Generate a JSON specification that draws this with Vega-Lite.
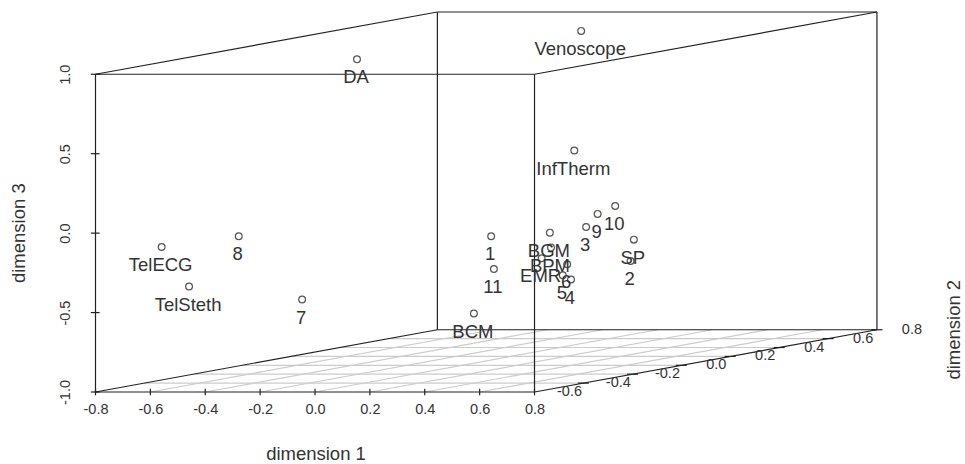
{
"$schema":"https://vega.github.io/schema/vega-lite/v6.json",
"width":782,"height":380,
"autosize":{"type":"none"},
"padding":{"left":95.5,"top":12,"right":87.5,"bottom":72},
"background":"white",
"view":{"stroke":null},
"config":{"font":"Liberation Sans"},
"datasets":{
"grid":[
{"x":-0.6,"y":-1,"x2":0.648,"y2":-0.608},{"x":-0.4,"y":-1,"x2":0.848,"y2":-0.608},{"x":-0.2,"y":-1,"x2":1.048,"y2":-0.608},{"x":0,"y":-1,"x2":1.248,"y2":-0.608},{"x":0.2,"y":-1,"x2":1.448,"y2":-0.608},{"x":0.4,"y":-1,"x2":1.648,"y2":-0.608},{"x":0.6,"y":-1,"x2":1.848,"y2":-0.608},
{"x":-0.622,"y":-0.944,"x2":0.978,"y2":-0.944},{"x":-0.443,"y":-0.888,"x2":1.157,"y2":-0.888},{"x":-0.265,"y":-0.832,"x2":1.335,"y2":-0.832},{"x":-0.087,"y":-0.776,"x2":1.513,"y2":-0.776},{"x":0.092,"y":-0.72,"x2":1.692,"y2":-0.72},{"x":0.27,"y":-0.664,"x2":1.87,"y2":-0.664}
],
"frame":[
{"x":-0.8,"y":-1,"x2":0.8,"y2":-1},{"x":-0.8,"y":-1,"x2":-0.8,"y2":1},{"x":-0.8,"y":1,"x2":0.8,"y2":1},{"x":0.8,"y":-1,"x2":0.8,"y2":1},
{"x":-0.8,"y":-1,"x2":0.446,"y2":-0.608},{"x":0.8,"y":-1,"x2":2.048,"y2":-0.608},{"x":-0.8,"y":1,"x2":0.446,"y2":1.392},{"x":0.8,"y":1,"x2":2.048,"y2":1.392},
{"x":0.446,"y":-0.608,"x2":2.048,"y2":-0.608},{"x":0.446,"y":1.392,"x2":2.048,"y2":1.392},{"x":0.446,"y":-0.608,"x2":0.446,"y2":1.392},{"x":2.048,"y":-0.608,"x2":2.048,"y2":1.392},
{"x":-0.8,"y":-1.021,"x2":-0.8,"y2":-0.979},{"x":-0.6,"y":-1.021,"x2":-0.6,"y2":-0.979},{"x":-0.4,"y":-1.021,"x2":-0.4,"y2":-0.979},{"x":-0.2,"y":-1.021,"x2":-0.2,"y2":-0.979},{"x":0,"y":-1.021,"x2":0,"y2":-0.979},{"x":0.2,"y":-1.021,"x2":0.2,"y2":-0.979},{"x":0.4,"y":-1.021,"x2":0.4,"y2":-0.979},{"x":0.6,"y":-1.021,"x2":0.6,"y2":-0.979},{"x":0.8,"y":-1.021,"x2":0.8,"y2":-0.979},
{"x":-0.817,"y":-1,"x2":-0.785,"y2":-1},{"x":-0.817,"y":-0.5,"x2":-0.785,"y2":-0.5},{"x":-0.817,"y":0,"x2":-0.785,"y2":0},{"x":-0.817,"y":0.5,"x2":-0.785,"y2":0.5},{"x":-0.817,"y":1,"x2":-0.785,"y2":1},
{"x":0.958,"y":-0.944,"x2":0.998,"y2":-0.944},{"x":1.137,"y":-0.888,"x2":1.177,"y2":-0.888},{"x":1.315,"y":-0.832,"x2":1.355,"y2":-0.832},{"x":1.493,"y":-0.776,"x2":1.533,"y2":-0.776},{"x":1.672,"y":-0.72,"x2":1.712,"y2":-0.72},{"x":1.85,"y":-0.664,"x2":1.89,"y2":-0.664},{"x":2.028,"y":-0.608,"x2":2.068,"y2":-0.608}
],
"points":[
{"x":0.153,"y":1.094,"label":"DA"},{"x":-0.278,"y":-0.02,"label":"8"},{"x":-0.559,"y":-0.087,"label":"TelECG"},{"x":-0.459,"y":-0.336,"label":"TelSteth"},{"x":-0.047,"y":-0.418,"label":"7"},{"x":0.579,"y":-0.506,"label":"BCM"},{"x":0.945,"y":0.52,"label":"InfTherm"},{"x":1.094,"y":0.171,"label":"10"},{"x":1.03,"y":0.121,"label":"9"},{"x":0.988,"y":0.039,"label":"3"},{"x":1.162,"y":-0.041,"label":"SP"},{"x":1.15,"y":-0.175,"label":"2"},{"x":0.642,"y":-0.02,"label":"1"},{"x":0.652,"y":-0.226,"label":"11"},{"x":0.856,"y":0.003,"label":"BGM"},{"x":0.86,"y":-0.091,"label":"BPM"},{"x":0.826,"y":-0.158,"label":"EMR"},{"x":0.919,"y":-0.196,"label":"6"},{"x":0.903,"y":-0.265,"label":"5"},{"x":0.933,"y":-0.292,"label":"4"},{"x":0.97,"y":1.273,"label":"Venoscope"}
],
"dim2":[
{"x":0.8,"y":-1,"label":"-0.6"},{"x":0.978,"y":-0.944,"label":"-0.4"},{"x":1.157,"y":-0.888,"label":"-0.2"},{"x":1.335,"y":-0.832,"label":"0.0"},{"x":1.513,"y":-0.776,"label":"0.2"},{"x":1.692,"y":-0.72,"label":"0.4"},{"x":1.87,"y":-0.664,"label":"0.6"},{"x":2.048,"y":-0.608,"label":"0.8"}
],
"dim2title":[{"x":2.33,"y":-0.608,"label":"dimension 2"}]
},
"encoding":{
"x":{"field":"x","type":"quantitative","scale":{"domain":[-0.8,2.05],"nice":false,"zero":false},
 "axis":{"values":[-0.8,-0.6,-0.4,-0.2,0,0.2,0.4,0.6,0.8],"labelExpr":"replace(format(datum.value,'.1f'),'−','-')","grid":false,"domain":false,"ticks":false,"labelFontSize":14.5,"labelColor":"#333","labelPadding":10,"title":"dimension 1","titleFontSize":18.5,"titleFontWeight":"normal","titleColor":"#333","titleX":220,"titleY":61,"titleBaseline":"middle","titleAlign":"center","labelFlush":false,"labelOverlap":false}},
"y":{"field":"y","type":"quantitative","scale":{"domain":[-1,1.392],"nice":false,"zero":false},
 "axis":{"values":[-1,-0.5,0,0.5,1],"labelExpr":"replace(format(datum.value,'.1f'),'−','-')","grid":false,"domain":false,"ticks":false,"labelFontSize":14.5,"labelColor":"#333","labelAngle":-90,"labelAlign":"center","labelBaseline":"middle","labelPadding":30,"title":"dimension 3","titleFontSize":18.5,"titleFontWeight":"normal","titleColor":"#333","titleX":-77,"titleY":220.7,"titleBaseline":"middle","titleAlign":"center","titleAngle":-90,"labelFlush":false,"labelOverlap":false}}
},
"layer":[
{"data":{"name":"grid"},"mark":{"type":"rule","color":"#cccccc","strokeWidth":1.2},"encoding":{"x2":{"field":"x2"},"y2":{"field":"y2"}}},
{"data":{"name":"frame"},"mark":{"type":"rule","color":"#222222","strokeWidth":1.2},"encoding":{"x2":{"field":"x2"},"y2":{"field":"y2"}}},
{"data":{"name":"points"},"mark":{"type":"point","shape":"circle","filled":false,"stroke":"#111111","strokeWidth":1.2,"size":46,"clip":false},"encoding":{}},
{"data":{"name":"points"},"mark":{"type":"text","font":"Liberation Sans","fontSize":18.5,"color":"#333333","align":"center","baseline":"middle","dx":-1,"dy":18},"encoding":{"text":{"field":"label"}}},
{"data":{"name":"dim2"},"mark":{"type":"text","font":"Liberation Sans","fontSize":14.5,"color":"#333333","align":"center","baseline":"middle","dx":35,"dy":0},"encoding":{"text":{"field":"label"}}},
{"data":{"name":"dim2title"},"mark":{"type":"text","font":"Liberation Sans","fontSize":18.5,"color":"#333333","align":"center","baseline":"middle","angle":270},"encoding":{"text":{"field":"label"}}}
]
}
